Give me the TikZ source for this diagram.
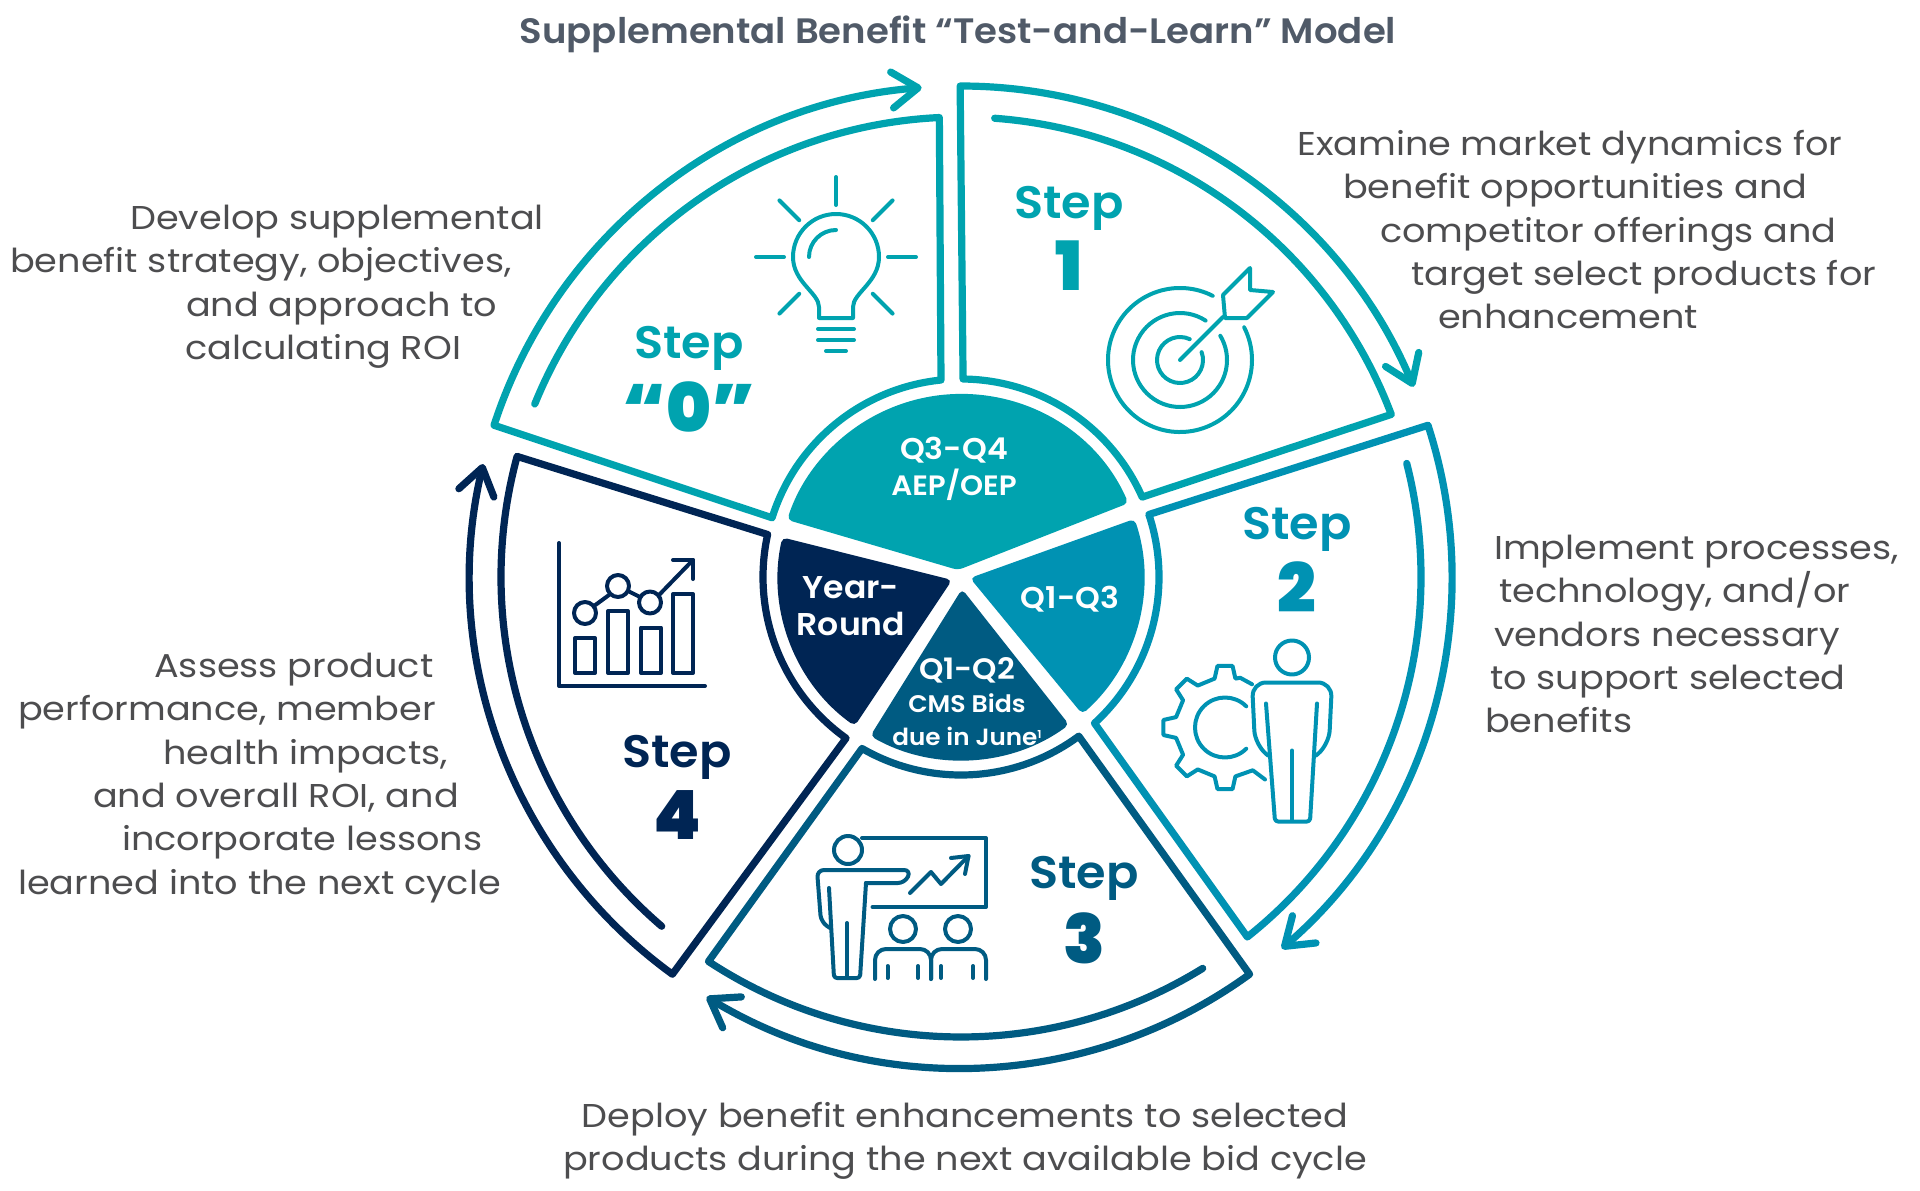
\documentclass[tikz,border=0pt]{standalone}
\usepackage{fontspec}
\setmainfont{Poppins}[FakeStretch=1.11]
\newfontfamily\semifont{Poppins SemiBold}[FakeStretch=1.05]
\newfontfamily\heavyfont{Poppins Black}
\usetikzlibrary{arrows.meta, positioning}
\definecolor{zerocolor}{RGB}{0,163,175}
\definecolor{twocolor}{RGB}{0,146,179}
\definecolor{threecolor}{RGB}{0,91,130}
\definecolor{fourcolor}{RGB}{0,37,84}
\definecolor{bodycolor}{RGB}{77,77,79}
\definecolor{titlecolor}{RGB}{80,90,104}
\tikzset{
    wedgeline/.style={draw=#1, line width=7.2pt, line join=round, line cap=round,
        -{Straight Barb[length=26pt, width=36pt, round, line width=7.2pt]}},
    iconline/.style={draw=#1, line width=4pt, line join=round, line cap=round},
    slicefill/.style={fill=#1, rounded corners=5pt},
    bodytext/.style={anchor=north west, inner sep=0pt, align=left, text=bodycolor,
        font=\fontsize{33}{43.3}\selectfont},
    slicetext/.style={inner sep=0pt, align=center, text=white},
    steplabel/.style={inner sep=0pt, text=#1, font=\semifont\fontsize{45.5}{45.5}\selectfont},
    stepnumber/.style={inner sep=0pt, text=#1, font=\heavyfont\fontsize{68}{68}\selectfont}
}
% free end, corner, hub start, hub end, outer start, arrow end
\newcommand{\stepwedge}[7]{%
    \draw[wedgeline=#1] (#2:460) arc[start angle=#2, end angle=#3, radius=460]
        -- (#4:198) arc[start angle=#4, end angle=#5, radius=198]
        -- (#6:491) arc[start angle=#6, end angle=#7, radius=491];}

\begin{document}
\begin{tikzpicture}[x=1pt, y=1pt]
    \useasboundingbox (0,0) rectangle (1920,-1191);

    \node[inner sep=0pt, text=titlecolor, font=\semifont\fontsize{35.3}{35.3}\selectfont] (title) at (958,-34)
        {Supplemental Benefit “Test-and-Learn” Model};

    \begin{scope}[shift={(961,-577)}]
        \stepwedge{zerocolor}{157.9}{92.7}{95.8}{162.6}{162}{94.6}
        \stepwedge{zerocolor}{85.8}{20.7}{23.8}{89.4}{90.1}{22.8}
        \stepwedge{twocolor}{14.3}{-51.5}{-47.6}{18.4}{18}{-49.2}
        \stepwedge{threecolor}{-58.3}{-123.3}{-120}{-53.5}{-54}{-121.2}
        \stepwedge{fourcolor}{-130.6}{-195.2}{-192.4}{-125.5}{-126}{-193.3}

        \fill[slicefill=zerocolor] (23.8:183) arc[start angle=23.8, end angle=161.8, radius=183] -- (-3,7) -- cycle;
        \fill[slicefill=twocolor] (18.5:183) arc[start angle=18.5, end angle=-48.5, radius=183] -- (9,-1) -- cycle;
        \fill[slicefill=threecolor] (-53.8:183) arc[start angle=-53.8, end angle=-119.7, radius=183] -- (1,-12) -- cycle;
        \fill[slicefill=fourcolor] (167.5:183) arc[start angle=167.5, end angle=234.5, radius=183] -- (-9,-3) -- cycle;
    \end{scope}

    \node[slicetext, font=\semifont\fontsize{30}{36}\selectfont] (qtop) at (954,-469)
        {Q3-Q4\\{\fontsize{28}{36}\selectfont AEP/OEP}};
    \node[slicetext, font=\semifont\fontsize{31.5}{36.5}\selectfont] (qyear) at (851,-606) {Year-\\Round};
    \node[slicetext, font=\semifont\fontsize{30}{36}\selectfont] (qright) at (1070,-599) {Q1-Q3};
    \node[slicetext, font=\semifont\fontsize{29.5}{33}\selectfont] (qbottom) at (967,-702)
        {Q1-Q2\\{\fontsize{24}{28}\selectfont CMS Bids}\\{\fontsize{23.5}{28}\selectfont due in June\raisebox{7pt}{\fontsize{11}{11}\selectfont 1}}};

    \node[steplabel=zerocolor] (stepzero) at (689,-348) {Step};
    \node[stepnumber=zerocolor, below=11pt of stepzero] (numzero) {“0”};
    \node[steplabel=zerocolor] (stepone) at (1069,-208) {Step};
    \node[stepnumber=zerocolor, below=10pt of stepone] (numone) {1};
    \node[steplabel=twocolor] (steptwo) at (1297,-529) {Step};
    \node[stepnumber=twocolor, below=10pt of steptwo] (numtwo) {2};
    \node[steplabel=threecolor] (stepthree) at (1084,-878) {Step};
    \node[stepnumber=threecolor, below=12pt of stepthree] (numthree) {3};
    \node[steplabel=fourcolor] (stepfour) at (677,-757) {Step};
    \node[stepnumber=fourcolor, below=11pt of stepfour] (numfour) {4};

    \node[bodytext] (textzero) at (10,-205)
        {\hspace*{120pt}Develop supplemental\\benefit strategy, objectives,\\\hspace*{176pt}and approach to\\\hspace*{175pt}calculating ROI};
    \node[bodytext] (textone) at (1297,-130)
        {Examine market dynamics for\\\hspace*{46pt}benefit opportunities and\\\hspace*{83pt}competitor offerings and\\\hspace*{114pt}target select products for\\\hspace*{141pt}enhancement};
    \node[bodytext] (texttwo) at (1485,-535)
        {\hspace*{9pt}Implement processes,\\\hspace*{14pt}technology, and/or\\\hspace*{9pt}vendors necessary\\\hspace*{5pt}to support selected\\benefits};
    \node[bodytext, anchor=north, align=center] (textthree) at (965,-1102)
        {Deploy benefit enhancements to selected\\products during the next available bid cycle};
    \node[bodytext] (textfour) at (18,-653)
        {\hspace*{136pt}Assess product\\performance, member\\\hspace*{145pt}health impacts,\\\hspace*{75pt}and overall ROI, and\\\hspace*{104pt}incorporate lessons\\learned into the next cycle};

    % bulb
    \begin{scope}[shift={(836,-257)}]
        \foreach \a in {0,45,...,315} {
            \ifnum\a=270\else
                \draw[iconline=zerocolor] (\a:52) -- (\a:80);
            \fi
        }
        \draw[iconline=zerocolor] (-17,-61) -- (-17,-50) .. controls (-17,-36) and (-43,-25) .. (-43,0)
            arc[start angle=180, end angle=0, radius=43] .. controls (43,-25) and (17,-36) .. (17,-50) -- (17,-61) -- cycle;
        \draw[iconline=zerocolor] (-27,0) arc[start angle=180, end angle=90, radius=27];
        \draw[iconline=zerocolor] (-18,-72) -- (18,-72);
        \draw[iconline=zerocolor] (-18,-83) -- (18,-83);
        \draw[iconline=zerocolor] (-10,-94) -- (10,-94);
    \end{scope}

    % target
    \begin{scope}[shift={(1180,-360)}]
        \draw[iconline=zerocolor] (63:72) arc[start angle=63, end angle=387, radius=72];
        \draw[iconline=zerocolor] (57:47) arc[start angle=57, end angle=391, radius=47];
        \draw[iconline=zerocolor] (65:23) arc[start angle=65, end angle=380, radius=23];
        \draw[iconline=zerocolor] (0,0) -- (43,43);
        \draw[iconline=zerocolor] (43,65) -- (70,92) -- (70,70) -- (93,68) -- (67,42) -- (45,42) -- cycle;
    \end{scope}

    % person and gear
    \begin{scope}[shift={(1292,-657.5)}]
        \draw[iconline=twocolor] (0,0) circle (17);
        \draw[iconline=twocolor, rounded corners=14pt] (-24,-98) -- (-37,-87) -- (-40,-25) -- (40,-25) -- (37,-87) -- (24,-98);
        \draw[iconline=twocolor, rounded corners=3pt] (-26,-46) -- (-17,-164) -- (18,-164) -- (25,-46);
        \draw[iconline=twocolor] (0,-93) -- (0,-162);
        \begin{scope}[shift={(-67,-70)}]
            \draw[iconline=twocolor] (45:30) arc[start angle=45, end angle=315, radius=30];
            \draw[iconline=twocolor] (58:51) -- (73:52)
                \foreach \a in {90,135,180,225,270} { -- ({\a-12}:50) -- ({\a-7}:62) -- ({\a+7}:62) -- ({\a+12}:50) }
                -- (303:51) -- (40,-52);
        \end{scope}
    \end{scope}

    % presenter
    \draw[iconline=threecolor] (848,-850) circle (14);
    \draw[iconline=threecolor] (862,-838) -- (986,-838) -- (986,-907) -- (872.5,-907);
    \draw[iconline=threecolor] (910,-893) -- (931,-872) -- (941,-884) -- (968.5,-856);
    \draw[iconline=threecolor] (951,-858) -- (968.5,-856) -- (965,-874);
    \draw[iconline=threecolor, rounded corners=7pt] (830,-928) -- (821,-922) -- (817,-870) -- (911,-870) -- (905,-883) -- (866,-883);
    \draw[iconline=threecolor, rounded corners=3pt] (866,-883) -- (860,-978) -- (834,-978) -- (829,-888);
    \draw[iconline=threecolor] (847,-923) -- (847,-976);
    \draw[iconline=threecolor] (903,-929) circle (13);
    \draw[iconline=threecolor] (958,-929) circle (13);
    \draw[iconline=threecolor, rounded corners=11pt] (875,-979) -- (875,-949) -- (931,-949) -- (931,-979);
    \draw[iconline=threecolor, rounded corners=11pt] (931,-979) -- (931,-949) -- (986,-949) -- (986,-979);
    \foreach \x in {887.5,918,941,973} {
        \draw[iconline=threecolor] (\x,-966) -- (\x,-978);
    }

    % chart
    \draw[iconline=fourcolor] (559,-543) -- (559,-686) -- (705,-686);
    \draw[iconline=fourcolor] (575,-638) rectangle (595,-673);
    \draw[iconline=fourcolor] (608,-611) rectangle (628,-673);
    \draw[iconline=fourcolor] (641,-627.5) rectangle (661,-673);
    \draw[iconline=fourcolor] (673,-594) rectangle (693,-673);
    \draw[iconline=fourcolor] (585,-613) circle (11);
    \draw[iconline=fourcolor] (618,-586) circle (11);
    \draw[iconline=fourcolor] (650,-602.5) circle (11);
    \draw[iconline=fourcolor] (594,-606) -- (609,-595);
    \draw[iconline=fourcolor] (628,-591) -- (640,-597);
    \draw[iconline=fourcolor] (659,-595) -- (693,-560);
    \draw[iconline=fourcolor] (673,-560) -- (693,-560) -- (693,-579);
\end{tikzpicture}
\end{document}
